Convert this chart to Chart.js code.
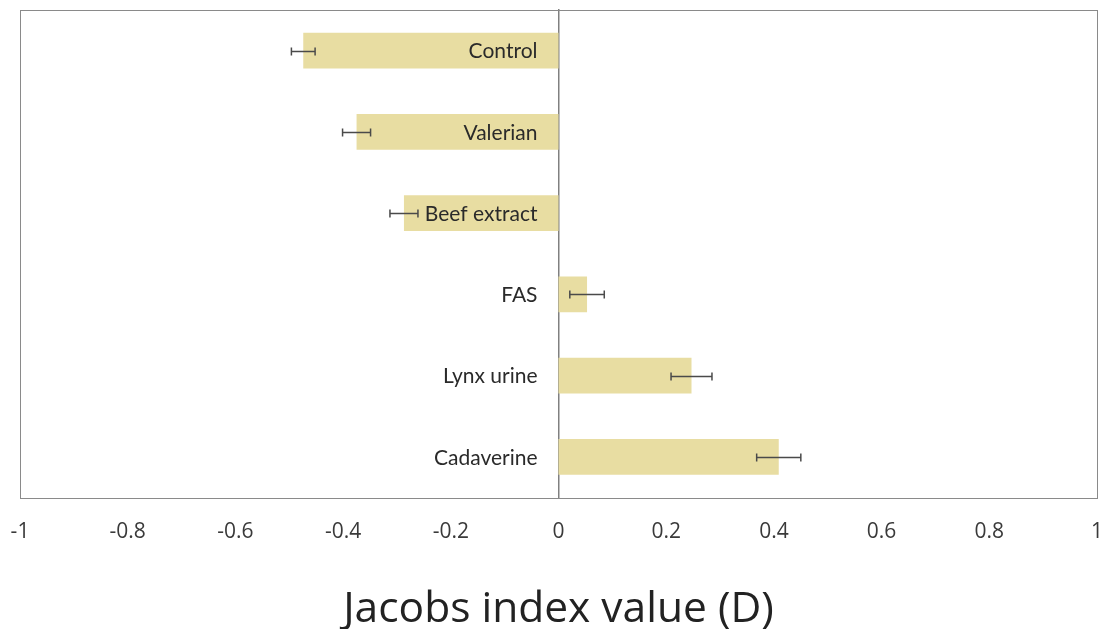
<!DOCTYPE html>
<html>
<head>
<meta charset="utf-8">
<script src="https://cdn.jsdelivr.net/npm/chart.js@4.4.1/dist/chart.umd.min.js"></script>
<style>
  html, body { margin: 0; padding: 0; background: #fff; }
  #wrap { width: 1108px; height: 629px; }
</style>
</head>
<body>
<div id="wrap"><canvas id="chart"></canvas></div>
<script>
// data
const categories = ['Control', 'Valerian', 'Beef extract', 'FAS', 'Lynx urine', 'Cadaverine'];
const jacobsValues = [-0.474, -0.375, -0.287, 0.053, 0.247, 0.409];
const errorValues = [0.022, 0.026, 0.026, 0.032, 0.038, 0.041];
const xTickValues = [-1, -0.8, -0.6, -0.4, -0.2, 0, 0.2, 0.4, 0.6, 0.8, 1];

// frame around the plot area
const boxPlugin = {
  id: 'box',
  afterDraw(chart) {
    const { ctx, chartArea: a } = chart;
    ctx.save();
    ctx.strokeStyle = '#8a8a8a';
    ctx.lineWidth = 1;
    ctx.strokeRect(Math.round(a.left) + 0.5, Math.round(a.top) + 0.5,
      Math.round(a.right - a.left), Math.round(a.bottom - a.top));
    ctx.restore();
  }
};

// error bars and category labels (labels sit on top of the bars, left of zero)
const errorBarPlugin = {
  id: 'errorBars',
  afterDatasetsDraw(chart) {
    const { ctx } = chart;
    const xs = chart.scales.x;
    const ys = chart.scales.y;
    const meta = chart.getDatasetMeta(0);
    ctx.save();
    ctx.strokeStyle = '#4a4a4a';
    ctx.lineWidth = 1.5;
    meta.data.forEach((bar, i) => {
      const v = jacobsValues[i];
      const e = errorValues[i];
      const x1 = xs.getPixelForValue(v - e);
      const x2 = xs.getPixelForValue(v + e);
      const y = Math.round(bar.y) + 0.5;
      ctx.beginPath();
      ctx.moveTo(x1, y); ctx.lineTo(x2, y);
      ctx.moveTo(x1, y - 4); ctx.lineTo(x1, y + 4);
      ctx.moveTo(x2, y - 4); ctx.lineTo(x2, y + 4);
      ctx.stroke();
    });
    ctx.fillStyle = '#2a2a2a';
    ctx.font = '21px Lato';
    ctx.textAlign = 'right';
    ctx.textBaseline = 'middle';
    const x0 = xs.getPixelForValue(0) - 21;
    categories.forEach((c, i) => {
      ctx.fillText(c, x0, ys.getPixelForValue(i) + 1);
    });
    ctx.restore();
  }
};

const ctx = document.getElementById('chart').getContext('2d');
new Chart(ctx, {
  type: 'bar',
  data: {
    labels: categories,
    datasets: [{
      label: 'Jacobs index',
      data: jacobsValues,
      backgroundColor: 'rgb(232, 221, 162)',
      borderWidth: 0,
      categoryPercentage: 1,
      barPercentage: 0.44
    }]
  },
  options: {
    indexAxis: 'y',
    responsive: true,
    maintainAspectRatio: false,
    animation: false,
    layout: { padding: { left: 20, right: 11, top: 10, bottom: 0 } },
    plugins: {
      legend: { display: false },
      tooltip: { enabled: false }
    },
    scales: {
      x: {
        type: 'linear',
        min: -1,
        max: 1,
        afterBuildTicks(scale) {
          scale.ticks = xTickValues.map(v => ({ value: v }));
        },
        afterFit(scale) {
          // let the end labels hang over the frame like the original
          scale.paddingLeft = 0;
          scale.paddingRight = 0;
        },
        grid: { display: false, drawTicks: false },
        border: { display: false },
        ticks: {
          padding: 22,
          color: '#3a3a3a',
          font: { family: 'Open Sans', size: 21 },
          callback: v => String(Math.round(v * 10) / 10)
        },
        title: {
          display: true,
          text: 'Jacobs index value (D)',
          color: '#222',
          font: { family: 'Open Sans', size: 42.5, lineHeight: 0.9 },
          padding: { top: 24, bottom: 0 }
        }
      },
      y: {
        type: 'category',
        position: { x: 0 },
        grid: { display: false, drawTicks: false },
        border: { display: true, color: '#808080', width: 1.5 },
        ticks: { display: false }
      }
    }
  },
  plugins: [boxPlugin, errorBarPlugin]
});
</script>
</body>
</html>
